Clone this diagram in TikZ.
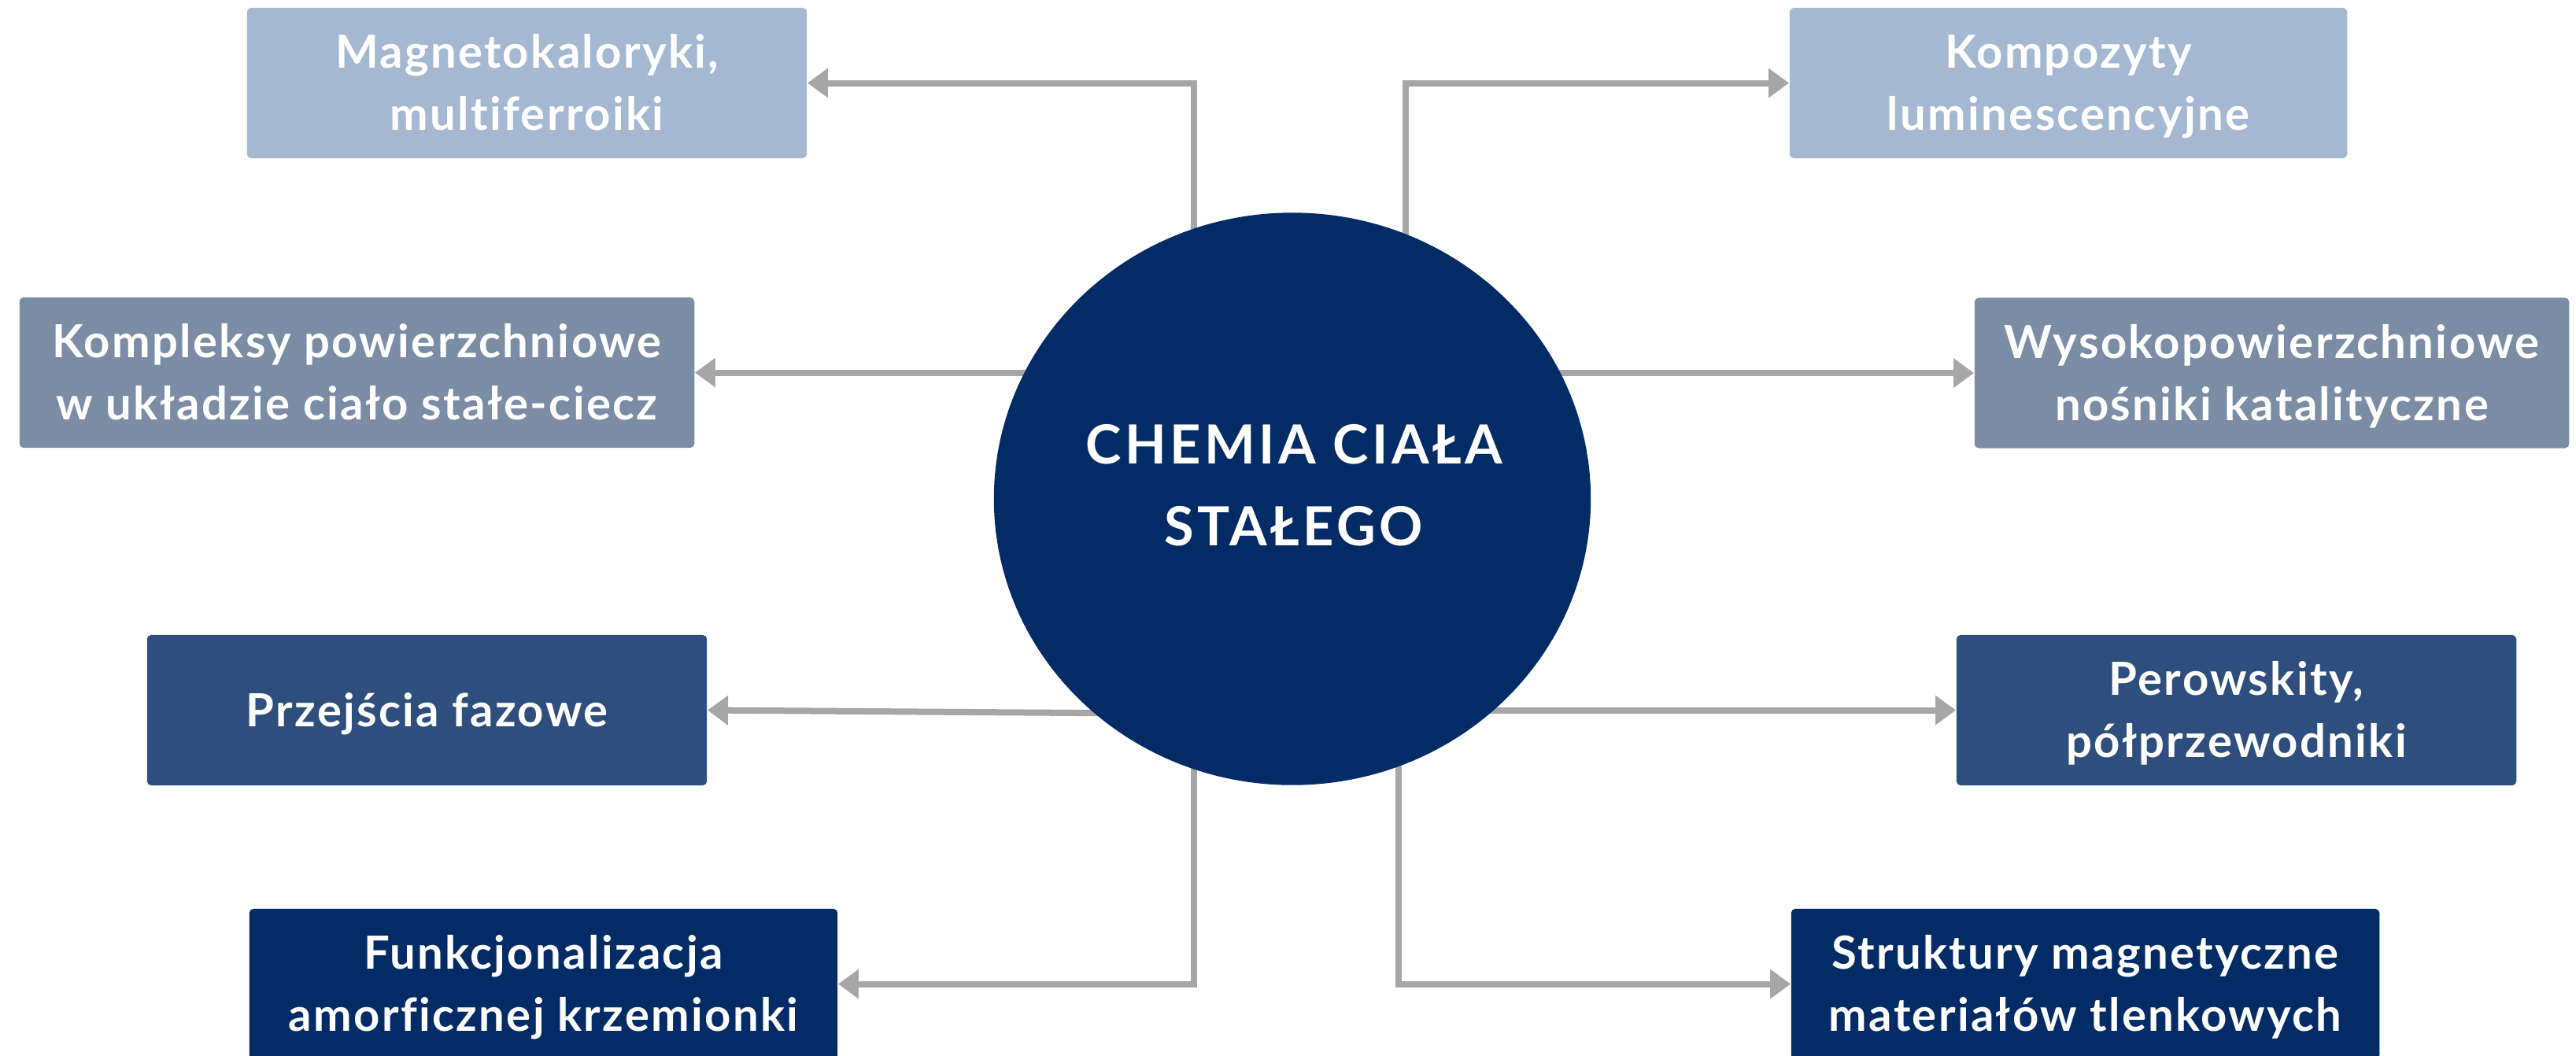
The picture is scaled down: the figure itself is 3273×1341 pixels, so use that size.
\documentclass[tikz,border=0pt]{standalone}
\usepackage{fontspec}
\setmainfont{Lato}[Ligatures=NoCommon]
\usetikzlibrary{arrows.meta, shapes.geometric, backgrounds, calc}

\definecolor{pale}{HTML}{A4B8D1}
\definecolor{slate}{HTML}{7B8CA5}
\definecolor{steel}{HTML}{2E4F7E}
\definecolor{navy}{HTML}{032C67}
\definecolor{wire}{HTML}{A6A6A6}

\begin{document}
\begin{tikzpicture}[x=0.01cm, y=-0.01cm,
  box/.style={rounded corners=1.5pt, minimum height=1.91cm, inner sep=0pt,
    align=center, text=white, text height=34.3pt, text depth=0pt,
    font=\fontsize{16.5}{22.5}\selectfont\bfseries\addfontfeature{LetterSpace=4}},
  arr/.style={draw=wire, line width=0.08cm,
    -{Triangle[width=0.36cm, length=0.26cm]}}]

  \useasboundingbox (0,0) rectangle (3273,1341);

  % 中心圆
  \node[ellipse, fill=navy, minimum width=7.58cm, minimum height=7.27cm,
    inner sep=0pt] (chem) at (1642,634) {};
  \node[text=white, align=center,
    font=\fontsize{19.5}{29.6}\selectfont\bfseries\addfontfeature{LetterSpace=6.5}]
    (chemtxt) at (1644,617) {CHEMIA CIAŁA\\STAŁEGO};

  % 左右各四个方框
  \node[box, fill=pale,  minimum width=7.11cm] (mag)    at (669.5,105.5)  {Magnetokaloryki,\\multiferroiki};
  \node[box, fill=pale,  minimum width=7.08cm] (komp)   at (2628,105.5)   {Kompozyty\\luminescencyjne};
  \node[box, fill=slate, minimum width=8.57cm] (kompl)  at (453.5,473.5)  {Kompleksy powierzchniowe\\w układzie ciało stałe-ciecz};
  \node[box, fill=slate, minimum width=7.55cm] (wys)    at (2886.5,474)   {Wysokopowierzchniowe\\nośniki katalityczne};
  \node[box, fill=steel, minimum width=7.11cm, text height=11.8pt] (przej) at (542.5,902.5) {Przejścia fazowe};
  \node[box, fill=steel, minimum width=7.11cm] (perow)  at (2841.5,902.5) {Perowskity,\\półprzewodniki};
  \node[box, fill=navy,  minimum width=7.47cm] (funk)   at (690.5,1250.5) {Funkcjonalizacja\\amorficznej krzemionki};
  \node[box, fill=navy,  minimum width=7.47cm] (strukt) at (2649.5,1250.5) {Struktury magnetyczne\\materiałów tlenkowych};

  % 灰色箭头（压在圆的下面）
  \begin{scope}[on background layer]
    \draw[arr] ($(chem.center)+(-125,0)$) |- (mag.east);
    \draw[arr] ($(chem.center)+(144,0)$) |- (komp.west);
    \draw[arr] (chem.center |- kompl.east) -- (kompl.east);
    \draw[arr] (chem.center |- wys.west) -- (wys.west);
    \draw[arr] ($(chem.center)+(0,274)$) -- (przej.east);
    \draw[arr] (chem.center |- perow.west) -- (perow.west);
    \draw[arr] ($(chem.center)+(-125,0)$) |- (funk.east);
    \draw[arr] ($(chem.center)+(135,0)$) |- (strukt.west);
  \end{scope}
\end{tikzpicture}
\end{document}
